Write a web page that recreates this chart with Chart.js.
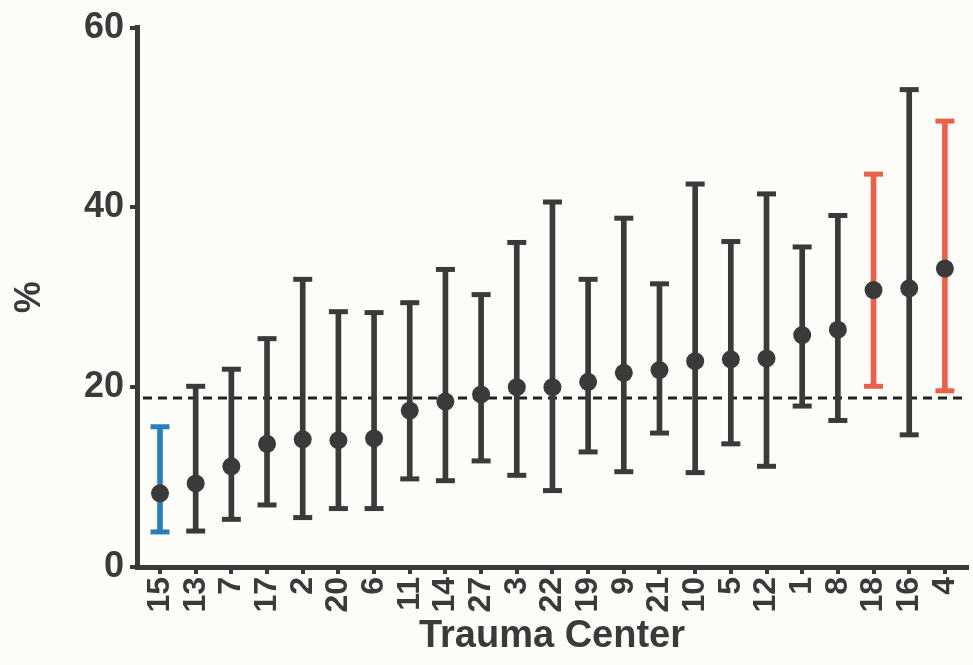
<!DOCTYPE html>
<html>
<head>
<meta charset="utf-8">
<script src="https://cdn.jsdelivr.net/npm/chart.js@4/dist/chart.umd.min.js"></script>
<style>
  html, body { margin: 0; padding: 0; background: #fcfcf9; }
  #wrap { width: 973px; height: 665px; }
</style>
</head>
<body>
<div id="wrap"><canvas id="c" width="973" height="665"></canvas></div>
<script>
// ---- data ----
const centers = ['15','13','7','17','2','20','6','11','14','27','3','22','19','9','21','10','5','12','1','8','18','16','4'];
const means   = [8.2, 9.3, 11.2, 13.7, 14.2, 14.1, 14.3, 17.4, 18.4, 19.2, 20.0, 20.0, 20.6, 21.6, 21.9, 22.9, 23.1, 23.2, 25.8, 26.4, 30.8, 31.0, 33.2];
const lowerCI = [3.9, 4.0, 5.3, 6.9, 5.5, 6.5, 6.5, 9.8, 9.6, 11.8, 10.2, 8.5, 12.8, 10.6, 14.9, 10.5, 13.7, 11.2, 17.9, 16.3, 20.1, 14.7, 19.6];
const upperCI = [15.6, 20.1, 22.0, 25.4, 32.0, 28.4, 28.3, 29.4, 33.1, 30.3, 36.1, 40.6, 32.0, 38.8, 31.5, 42.6, 36.2, 41.5, 35.6, 39.1, 43.7, 53.1, 49.6];
// outlier status: -1 significantly below, 1 significantly above, 0 not different
const status  = [-1, 0, 0, 0, 0, 0, 0, 0, 0, 0, 0, 0, 0, 0, 0, 0, 0, 0, 0, 0, 1, 0, 1];
const overallRate = 18.8;
const yTicks = [0, 20, 40, 60];

// ---- styling ----
const DARK = '#3a3a3a';
const BLUE = '#2b7cb8';
const RED  = '#e9604b';
const colorFor = s => s < 0 ? BLUE : (s > 0 ? RED : DARK);
const barColors = status.map(colorFor);
const FONT = "'Liberation Sans', Arial, sans-serif";

const idx = centers.map((_, i) => i);
const pts = arr => arr.map((v, i) => ({ x: i, y: v }));

const refLine = {
  id: 'refLine',
  beforeDatasetsDraw(chart) {
    const {ctx, chartArea, scales} = chart;
    const y = scales.y.getPixelForValue(overallRate);
    ctx.save();
    ctx.strokeStyle = '#222';
    ctx.lineWidth = 3;
    ctx.setLineDash([9, 6]);
    ctx.beginPath();
    ctx.moveTo(chartArea.left + 6, y);
    ctx.lineTo(chartArea.right, y);
    ctx.stroke();
    ctx.restore();
  }
};

new Chart(document.getElementById('c'), {
  type: 'bar',
  data: {
    datasets: [
      {
        type: 'line',
        data: pts(means),
        showLine: false,
        pointRadius: 9,
        pointHoverRadius: 9,
        pointBackgroundColor: DARK,
        pointBorderColor: DARK,
        pointBorderWidth: 0,
        clip: false,
        order: 0
      },
      {
        type: 'line',
        data: pts(lowerCI),
        showLine: false,
        pointStyle: 'line',
        pointRadius: 9.5,
        pointHoverRadius: 9.5,
        pointBorderWidth: 5,
        pointBorderColor: barColors,
        clip: false,
        order: 1
      },
      {
        type: 'line',
        data: pts(upperCI),
        showLine: false,
        pointStyle: 'line',
        pointRadius: 9.5,
        pointHoverRadius: 9.5,
        pointBorderWidth: 5,
        pointBorderColor: barColors,
        clip: false,
        order: 1
      },
      {
        type: 'bar',
        data: lowerCI.map((l, i) => ({ x: i, y: [l, upperCI[i]] })),
        backgroundColor: barColors,
        borderWidth: 0,
        barThickness: 5,
        order: 2
      }
    ]
  },
  options: {
    responsive: false,
    animation: false,
    events: [],
    layout: { autoPadding: false, padding: { left: 0, right: 6, top: 25, bottom: 2 } },
    plugins: { legend: { display: false }, tooltip: { enabled: false } },
    scales: {
      x: {
        type: 'linear',
        min: -0.645,
        max: 22.62,
        offset: false,
        afterBuildTicks(scale) { scale.ticks = idx.map(v => ({ value: v })); },
        grid: { display: true, offset: false, drawOnChartArea: false, tickLength: 7, lineWidth: 4, color: DARK },
        border: { display: true, width: 5, color: DARK },
        ticks: {
          color: DARK, autoSkip: false, minRotation: 90, maxRotation: 90, padding: 3,
          callback: v => centers[v],
          font: { family: FONT, size: 32, weight: 'bold' }
        },
        title: {
          display: true, text: 'Trauma Center', color: DARK, padding: { top: 0, bottom: 4 },
          font: { family: FONT, size: 38, weight: 'bold' }
        },
        afterFit(scale) { scale.height = 96; scale.paddingLeft = 0; scale.paddingRight = 0; }
      },
      y: {
        min: 0, max: 60,
        afterBuildTicks(scale) { scale.ticks = yTicks.map(v => ({ value: v })); },
        grid: { display: true, drawOnChartArea: false, tickLength: 7, lineWidth: 4, color: DARK },
        border: { display: true, width: 5, color: DARK },
        ticks: {
          color: DARK, padding: 6,
          font: { family: FONT, size: 36, weight: 'bold' }
        },
        title: {
          display: true, text: '%', color: DARK, padding: { top: 8, bottom: 0 },
          font: { family: FONT, size: 36, weight: 'bold' }
        },
        afterFit(scale) { scale.width = 137; }
      }
    }
  },
  plugins: [refLine]
});
</script>
</body>
</html>
